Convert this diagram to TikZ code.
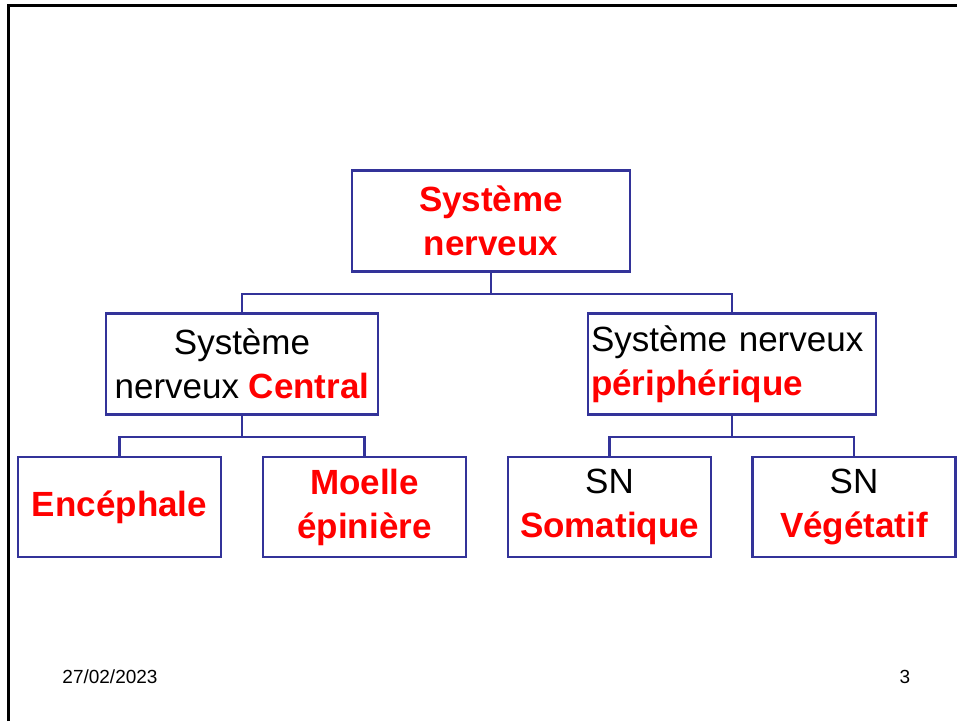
\documentclass[tikz,border=0pt]{standalone}
\usepackage{fontspec}
\setmainfont{Liberation Sans}
\usepackage{tikz}
\usetikzlibrary{positioning}
\definecolor{navy}{RGB}{51,51,153}
\newcommand{\rd}[1]{\textcolor{red}{\textbf{#1}}}

\begin{document}
\begin{tikzpicture}[x=1pt, y=-1pt, box/.style={draw=navy, line width=2.8pt, minimum height=101pt, inner sep=2pt, align=center, font=\fontsize{35}{44}\selectfont}, link/.style={draw=navy, line width=2.8pt}, small/.style={font=\fontsize{19}{22}\selectfont}]
		\useasboundingbox (0,0) rectangle (957,721);
		\draw[line width=3pt] (8.7,721) -- (8.7,5.3) -- (957,5.3);

		\node[box, minimum width=278pt] (sn)  at (491,221) {\rd{Système}\\\rd{nerveux}};
		\node[box, minimum width=272pt] (snc) at (242,364) {Système\\nerveux \rd{Central}};
		\node[box, minimum width=288pt, text width=282pt, align=left] (snp) at (732,364) {Système nerveux\\\rd{périphérique}};

		\node[box, minimum width=203pt, minimum height=100pt] (enc) at (119.5,507) {\rd{Encéphale}\vphantom{p}};
		\node[box, minimum width=203pt, minimum height=100pt] (moe) at (364.5,507) {\rd{Moelle}\\\rd{épinière}};
		\node[box, minimum width=203pt, minimum height=100pt] (som) at (609.5,507) {SN\\\rd{Somatique}};
		\node[box, minimum width=203pt, minimum height=100pt] (veg) at (854,507) {SN\\\rd{Végétatif}};

		\draw[link] (sn.south) -- ++(0,21) coordinate (j1);
		\draw[link] (snc.north) |- (j1) -| (snp.north);
		\draw[link] (snc.south) -- ++(0,21) coordinate (j2);
		\draw[link] (enc.north) |- (j2) -| (moe.north);
		\draw[link] (snp.south) -- ++(0,21) coordinate (j3);
		\draw[link] (som.north) |- (j3) -| (veg.north);

		\node[small] (date) at (110,677) {27/02/2023};
		\node[small] (page) at (905,677) {3};
\end{tikzpicture}
\end{document}
